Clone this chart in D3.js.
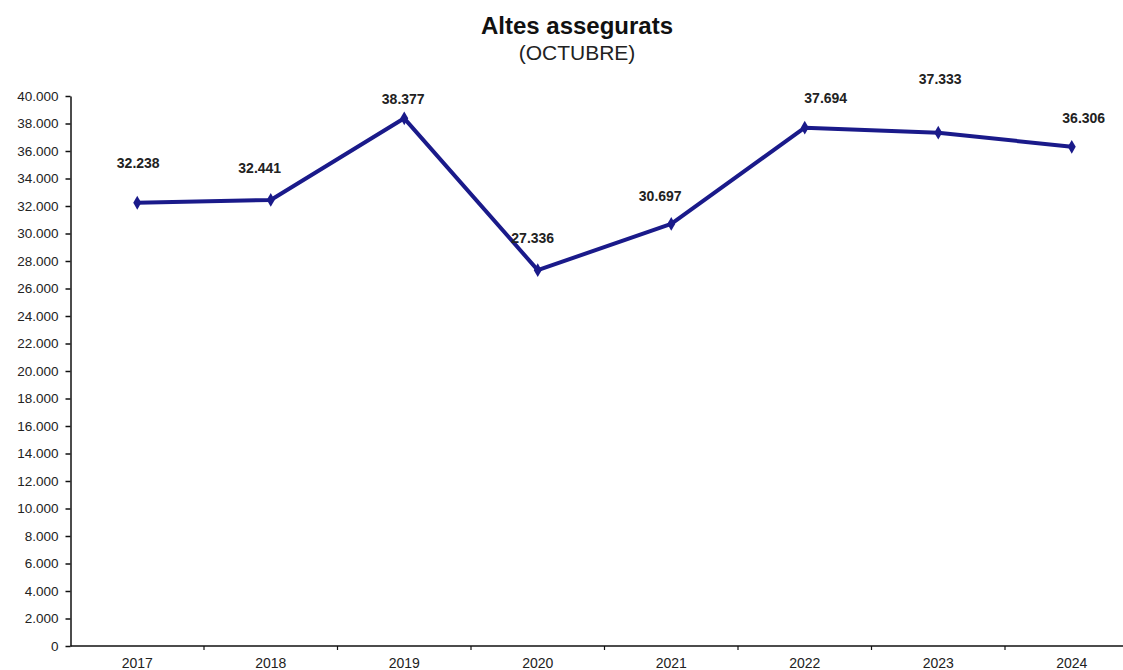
<!DOCTYPE html>
<html><head><meta charset="utf-8">
<script src="https://cdn.jsdelivr.net/npm/d3@7"></script>
<style>body{margin:0;background:#fff;}svg{display:block;font-family:"Liberation Sans",Arial,sans-serif;}</style>
</head><body>
<svg id="c" width="1123" height="670"></svg>
<script>
const years = ["2017","2018","2019","2020","2021","2022","2023","2024"];
const values = [32238,32441,38377,27336,30697,37694,37333,36306];
const yTicks = d3.range(0,40001,2000);
const labelDx = [1,-11,-1,-5,-11,21,2,12];
const labelDy = [-40,-32,-19,-32,-28,-30,-54,-29];

(function(){
const svg = d3.select("#c");
const mLeft = 70.5, mRight = 1138.5, mTop = 96, mBottom = 646;
const x = d3.scaleBand().domain(years).range([mLeft,mRight]);
const y = d3.scaleLinear().domain([0,40000]).range([mBottom,mTop]);
const fmt = v => d3.format(",")(v).replace(/,/g,".");

svg.append("text").attr("x",577).attr("y",34).attr("text-anchor","middle")
  .attr("font-size",24).attr("font-weight","bold").attr("fill","#111").text("Altes assegurats");
svg.append("text").attr("x",577).attr("y",60).attr("text-anchor","middle")
  .attr("font-size",21).attr("fill","#222").text("(OCTUBRE)");

const ya = svg.append("g").attr("transform",`translate(${mLeft},0)`)
  .call(d3.axisLeft(y).tickValues(yTicks).tickSize(5).tickSizeOuter(0).tickPadding(7).tickFormat(fmt));
ya.selectAll("text").attr("font-size",13.5).attr("fill","#222").attr("font-family","Liberation Sans, Arial, sans-serif");
ya.selectAll("line,path").attr("stroke","#111").attr("stroke-width",1.5);

const xa = svg.append("g").attr("transform",`translate(0,${mBottom})`);
xa.append("line").attr("x1",mLeft).attr("x2",mRight).attr("stroke","#111").attr("stroke-width",1.5);
xa.selectAll("line.t").data(years.slice(1)).enter().append("line").attr("class","t")
  .attr("x1",d=>x(d)).attr("x2",d=>x(d)).attr("y1",0).attr("y2",4).attr("stroke","#111").attr("stroke-width",1.2);
xa.selectAll("text").data(years).enter().append("text")
  .attr("x",d=>x(d)+x.bandwidth()/2).attr("y",22).attr("text-anchor","middle")
  .attr("font-size",14).attr("fill","#222").text(d=>d);

const pts = years.map((yr,i)=>({yr,v:values[i],i}));
const line = d3.line().x(d=>x(d.yr)+x.bandwidth()/2).y(d=>y(d.v));
svg.append("path").datum(pts).attr("d",line).attr("fill","none")
  .attr("stroke","#1a1a8a").attr("stroke-width",4).attr("stroke-linejoin","round");
svg.selectAll("path.m").data(pts).enter().append("path").attr("class","m")
  .attr("d",d3.symbol(d3.symbolDiamond,55)())
  .attr("transform",d=>`translate(${x(d.yr)+x.bandwidth()/2},${y(d.v)})`)
  .attr("fill","#1a1a8a");
svg.selectAll("text.l").data(pts).enter().append("text").attr("class","l")
  .attr("x",d=>x(d.yr)+x.bandwidth()/2+labelDx[d.i]).attr("y",d=>y(d.v)+labelDy[d.i]+5)
  .attr("text-anchor","middle").attr("font-size",14).attr("font-weight","bold").attr("fill","#222")
  .text(d=>fmt(d.v));
})();
</script>
</body></html>
